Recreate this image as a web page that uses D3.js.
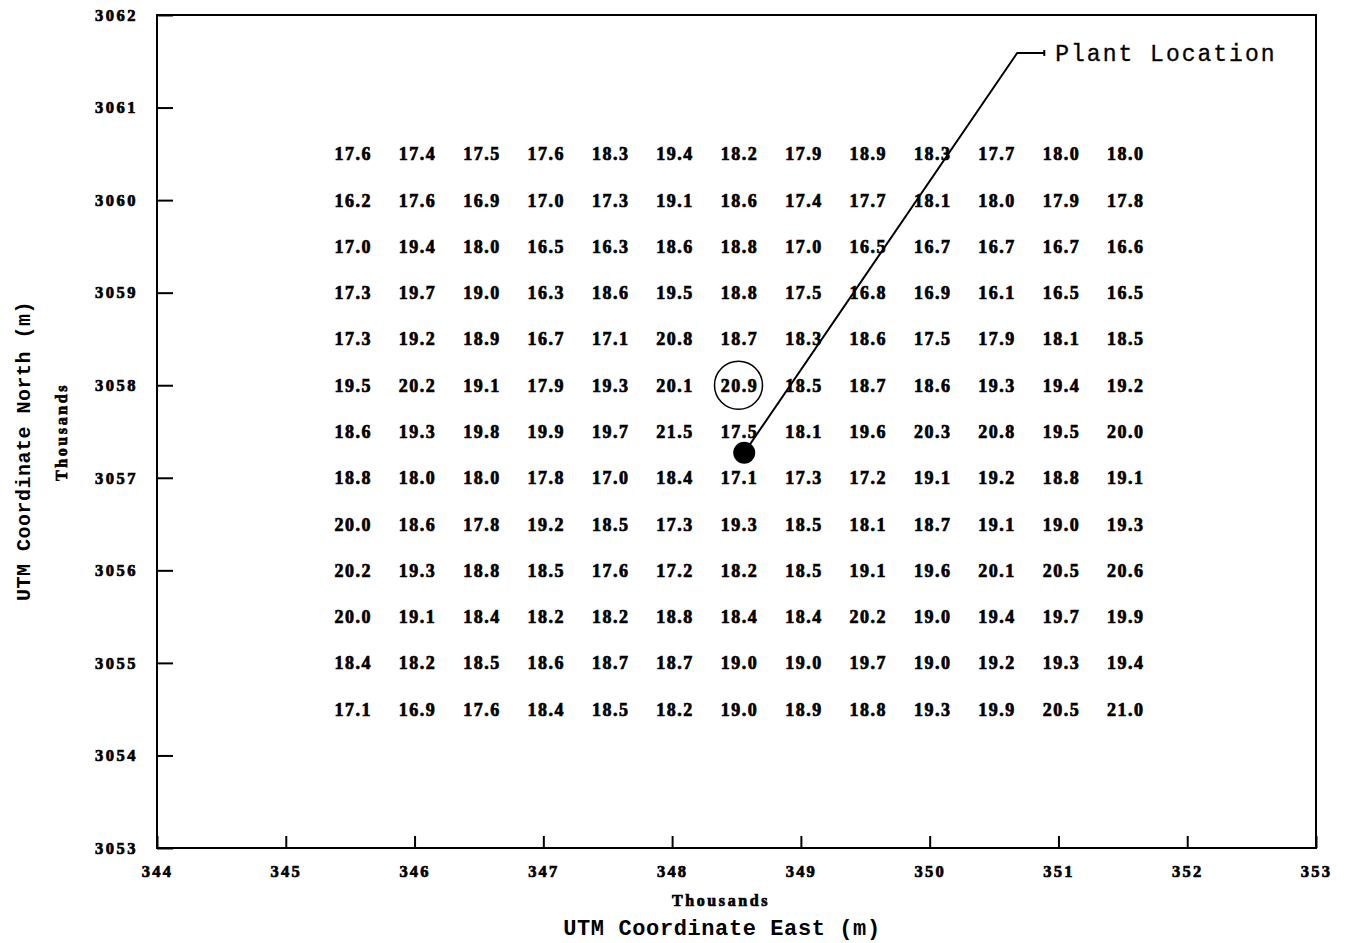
<!DOCTYPE html>
<html>
<head>
<meta charset="utf-8">
<script src="https://cdn.jsdelivr.net/npm/d3@7"></script>
<style>
  html, body { margin: 0; padding: 0; background: #fff; }
  svg { display: block; }
</style>
</head>
<body>
<svg id="chart" width="1350" height="943"></svg>
<script>
// ---- data ----
const eastCols = [345.5, 346.0, 346.5, 347.0, 347.5, 348.0, 348.5, 349.0, 349.5, 350.0, 350.5, 351.0, 351.5];
const northRows = [3060.5, 3060.0, 3059.5, 3059.0, 3058.5, 3058.0, 3057.5, 3057.0, 3056.5, 3056.0, 3055.5, 3055.0, 3054.5];
const row1  = [17.6, 17.4, 17.5, 17.6, 18.3, 19.4, 18.2, 17.9, 18.9, 18.3, 17.7, 18.0, 18.0];
const row2  = [16.2, 17.6, 16.9, 17.0, 17.3, 19.1, 18.6, 17.4, 17.7, 18.1, 18.0, 17.9, 17.8];
const row3  = [17.0, 19.4, 18.0, 16.5, 16.3, 18.6, 18.8, 17.0, 16.5, 16.7, 16.7, 16.7, 16.6];
const row4  = [17.3, 19.7, 19.0, 16.3, 18.6, 19.5, 18.8, 17.5, 16.8, 16.9, 16.1, 16.5, 16.5];
const row5  = [17.3, 19.2, 18.9, 16.7, 17.1, 20.8, 18.7, 18.3, 18.6, 17.5, 17.9, 18.1, 18.5];
const row6  = [19.5, 20.2, 19.1, 17.9, 19.3, 20.1, 20.9, 18.5, 18.7, 18.6, 19.3, 19.4, 19.2];
const row7  = [18.6, 19.3, 19.8, 19.9, 19.7, 21.5, 17.5, 18.1, 19.6, 20.3, 20.8, 19.5, 20.0];
const row8  = [18.8, 18.0, 18.0, 17.8, 17.0, 18.4, 17.1, 17.3, 17.2, 19.1, 19.2, 18.8, 19.1];
const row9  = [20.0, 18.6, 17.8, 19.2, 18.5, 17.3, 19.3, 18.5, 18.1, 18.7, 19.1, 19.0, 19.3];
const row10 = [20.2, 19.3, 18.8, 18.5, 17.6, 17.2, 18.2, 18.5, 19.1, 19.6, 20.1, 20.5, 20.6];
const row11 = [20.0, 19.1, 18.4, 18.2, 18.2, 18.8, 18.4, 18.4, 20.2, 19.0, 19.4, 19.7, 19.9];
const row12 = [18.4, 18.2, 18.5, 18.6, 18.7, 18.7, 19.0, 19.0, 19.7, 19.0, 19.2, 19.3, 19.4];
const row13 = [17.1, 16.9, 17.6, 18.4, 18.5, 18.2, 19.0, 18.9, 18.8, 19.3, 19.9, 20.5, 21.0];
const rows = [row1, row2, row3, row4, row5, row6, row7, row8, row9, row10, row11, row12, row13];

const xTicks = [344, 345, 346, 347, 348, 349, 350, 351, 352, 353];
const yTicks = [3053, 3054, 3055, 3056, 3057, 3058, 3059, 3060, 3061, 3062];

const plantLocation = [348.56, 3057.27];        // black dot
const maxPoint = [348.5, 3058.0];               // circled maximum (20.9)
const leaderPath = [[348.56, 3057.27], [350.68, 3061.59], [350.89, 3061.59]];
const plantLabel = "Plant Location";

// ---- layout ----
const svg = d3.select("#chart");
const mLeft = 157, mRight = 1316, mTop = 15, mBottom = 848;

const x = d3.scaleLinear().domain([344, 353]).range([mLeft, mRight]);
const y = d3.scaleLinear().domain([3053, 3062]).range([mBottom, mTop]);

const tickFont = "Liberation Serif";

function heavy(sel, size, spacing) {
  sel.attr("font-family", tickFont).attr("font-weight", "bold")
     .attr("font-size", size).attr("letter-spacing", spacing)
     .attr("fill", "#000").attr("stroke", "#000").attr("stroke-width", 0.7);
}

// frame
svg.append("rect")
  .attr("x", mLeft).attr("y", mTop)
  .attr("width", mRight - mLeft).attr("height", mBottom - mTop)
  .attr("fill", "none").attr("stroke", "#000").attr("stroke-width", 2);

// y axis
const yAxis = svg.append("g")
  .attr("transform", `translate(${mLeft},0)`)
  .call(d3.axisLeft(y).tickValues(yTicks).tickFormat(d3.format("d"))
        .tickSizeInner(-16).tickSizeOuter(0).tickPadding(19));
yAxis.select(".domain").remove();
yAxis.selectAll(".tick line").attr("stroke", "#000").attr("stroke-width", 2);
heavy(yAxis.selectAll(".tick text"), 16.5, 2.5);

// x axis
const xAxis = svg.append("g")
  .attr("transform", `translate(0,${mBottom})`)
  .call(d3.axisBottom(x).tickValues(xTicks).tickFormat(d3.format("d"))
        .tickSizeInner(-12).tickSizeOuter(0).tickPadding(17));
xAxis.select(".domain").remove();
xAxis.selectAll(".tick line").attr("stroke", "#000").attr("stroke-width", 2);
heavy(xAxis.selectAll(".tick text"), 16.5, 2.2);

// grid values
const cells = [];
rows.forEach((r, i) => r.forEach((v, j) => cells.push({ e: eastCols[j], n: northRows[i], v })));
heavy(svg.append("g").selectAll("text").data(cells).join("text")
  .attr("x", d => x(d.e) + 3)
  .attr("y", d => y(d.n))
  .attr("dy", "0.36em")
  .attr("text-anchor", "middle")
  .text(d => d.v.toFixed(1)), 18, 1.5);

// circle around max
svg.append("circle")
  .attr("cx", x(maxPoint[0]) + 2).attr("cy", y(maxPoint[1]))
  .attr("r", 24).attr("fill", "none").attr("stroke", "#000").attr("stroke-width", 1.5);

// leader line
svg.append("path")
  .attr("d", d3.line().x(d => x(d[0])).y(d => y(d[1]))(leaderPath))
  .attr("fill", "none").attr("stroke", "#000").attr("stroke-width", 2);
const endP = leaderPath[leaderPath.length - 1];
svg.append("line")
  .attr("x1", x(endP[0])).attr("x2", x(endP[0]))
  .attr("y1", y(endP[1]) - 3).attr("y2", y(endP[1]) + 3)
  .attr("stroke", "#000").attr("stroke-width", 2);

// plant dot
svg.append("circle")
  .attr("cx", x(plantLocation[0])).attr("cy", y(plantLocation[1]))
  .attr("r", 11).attr("fill", "#000");

// plant label
svg.append("text")
  .attr("x", x(endP[0]) + 11).attr("y", y(endP[1]))
  .attr("dy", "0.35em")
  .attr("font-family", "Liberation Mono").attr("font-size", 23)
  .attr("letter-spacing", 2).attr("fill", "#000")
  .attr("stroke", "#000").attr("stroke-width", 0.3)
  .text(plantLabel);

// axis titles
heavy(svg.append("text")
  .attr("x", 721).attr("y", 906)
  .attr("text-anchor", "middle")
  .text("Thousands"), 16, 2.6);
svg.append("text")
  .attr("x", 722).attr("y", 935)
  .attr("text-anchor", "middle")
  .attr("font-family", "Liberation Mono").attr("font-weight", "bold")
  .attr("font-size", 22).attr("letter-spacing", 0.6).attr("fill", "#000")
  .text("UTM Coordinate East (m)");

heavy(svg.append("text")
  .attr("transform", "translate(67,432) rotate(-90)")
  .attr("text-anchor", "middle")
  .text("Thousands"), 16, 2.6);
svg.append("text")
  .attr("transform", "translate(30,451) rotate(-90)")
  .attr("text-anchor", "middle")
  .attr("font-family", "Liberation Mono").attr("font-weight", "bold")
  .attr("font-size", 20).attr("letter-spacing", 0.5).attr("fill", "#000")
  .text("UTM Coordinate North (m)");
</script>
</body>
</html>
